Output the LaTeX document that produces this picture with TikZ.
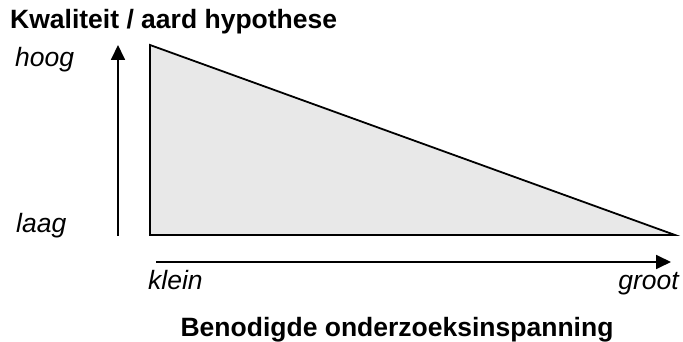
\documentclass[tikz,border=0pt]{standalone}
\usepackage{fontspec}
\setmainfont{Liberation Sans}
\usepackage{tikz}
\usetikzlibrary{arrows.meta}
\definecolor{vlak}{HTML}{E8E8E8}
\tikzset{
  as/.style={line width=1.8pt,-{Triangle[length=15pt,width=14pt]}},
  lbl/.style={inner sep=0pt,font=\fontsize{26.5}{31}\selectfont\itshape},
  kop/.style={inner sep=0pt,font=\fontsize{26.5}{31}\selectfont\bfseries}
}
\begin{document}
\begin{tikzpicture}[x=1pt,y=1pt]
\useasboundingbox (0,0) rectangle (683,342);
\path[fill=vlak,draw,line width=1.8pt,line join=miter](150,297)--(150,107)--(675,107)--cycle;
\coordinate (v0) at (118,106);
\coordinate (v1) at (118,297);
\coordinate (h0) at (156,80);
\coordinate (h1) at (671,80);
\draw[as](v0)--(v1);
\draw[as](h0)--(h1);
\node[kop,anchor=base west] (titel) at (10,313) {Kwaliteit / aard hypothese};
\node[lbl,anchor=base west] (hoog) at (15,275) {hoog};
\node[lbl,anchor=base west] (laag) at (16,109) {laag};
\node[lbl,anchor=base west] (klein) at (148,52) {klein};
\node[lbl,anchor=base east] (groot) at (679,52) {groot};
\node[kop,anchor=base] (inspanning) at (397,5) {Benodigde onderzoeksinspanning};
\end{tikzpicture}
\end{document}
